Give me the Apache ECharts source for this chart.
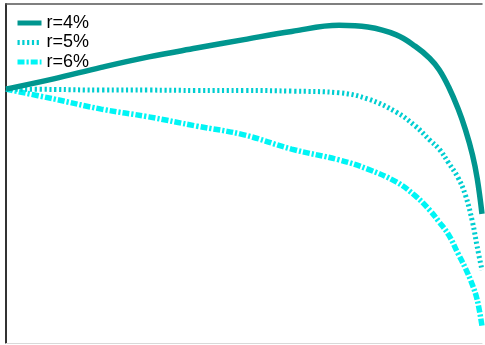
<!DOCTYPE html>
<html>
<head>
<meta charset="utf-8">
<script src="https://cdn.jsdelivr.net/npm/echarts@6/dist/echarts.min.js"></script>
<style>html,body{margin:0;padding:0;background:#fff;}#c{width:485px;height:345px;}</style>
</head>
<body>
<div id="c"></div>
<script>
const xs = [0, 10, 20, 30, 40, 50, 60, 70, 76, 82, 86, 89, 91, 93, 95, 96.5, 98, 99, 100];
const r4 = [74.9, 77.9, 81.3, 84.4, 87.0, 89.5, 91.9, 93.7, 93.2, 90.9, 87.5, 84.0, 80.6, 75.5, 69.0, 63.0, 55.5, 48.5, 38.1];
const r5 = [74.9, 74.8, 74.6, 74.6, 74.5, 74.5, 74.3, 73.8, 72.0, 68.1, 64.0, 59.9, 57.2, 53.1, 48.7, 43.7, 35.7, 28.3, 21.5];
const r6 = [74.9, 72.0, 69.0, 66.7, 64.0, 61.4, 57.2, 54.0, 51.3, 47.5, 43.4, 39.2, 35.7, 31.9, 26.3, 22.1, 17.1, 12.7, 5.0];
const names = ['r=4%', 'r=5%', 'r=6%'];

const pairs = arr => xs.map((x, i) => [x, arr[i]]);
const chart = echarts.init(document.getElementById('c'), null, {renderer: 'canvas'});
chart.setOption({
  animation: false,
  backgroundColor: '#fff',
  grid: {left: 6, right: 3, top: 4, bottom: 2},
  legend: {
    orient: 'vertical', left: 15, top: 14, padding: 0,
    itemWidth: 24, itemHeight: 14, itemGap: 1.5,
    itemStyle: {opacity: 0},
    lineStyle: {width: 5},
    textStyle: {fontFamily: 'Liberation Sans, Arial, sans-serif', fontSize: 18, color: '#000', lineHeight: 18},
    data: names
  },
  xAxis: [
    {type: 'value', min: 0, max: 100, position: 'bottom',
     axisLine: {show: true, lineStyle: {color: '#d9d9d9', width: 1}},
     axisTick: {show: false}, axisLabel: {show: false}, splitLine: {show: false}},
    {type: 'value', min: 0, max: 100, position: 'top',
     axisLine: {show: true, lineStyle: {color: '#555', width: 1.5}},
     axisTick: {show: false}, axisLabel: {show: false}, splitLine: {show: false}}
  ],
  yAxis: {
    type: 'value', min: 0, max: 100,
    axisLine: {show: true, lineStyle: {color: '#333', width: 2}},
    axisTick: {show: false}, axisLabel: {show: false}, splitLine: {show: false}
  },
  series: [
    {name: names[0], type: 'line', data: pairs(r4), smooth: 0.4, symbol: 'none', z: 3,
     color: '#00968F', lineStyle: {color: '#00968F', width: 5.5, type: 'solid'}},
    {name: names[1], type: 'line', data: pairs(r5), smooth: 0.4, symbol: 'none', z: 2,
     color: '#00CED1', lineStyle: {color: '#00CED1', width: 5, type: [2.2, 2.6]}},
    {name: names[2], type: 'line', data: pairs(r6), smooth: 0.4, symbol: 'none', z: 1,
     color: '#00FFFF', lineStyle: {color: '#00F5F5', width: 5.5, type: [7, 2, 2.2, 2]}}
  ]
});
</script>
</body>
</html>
